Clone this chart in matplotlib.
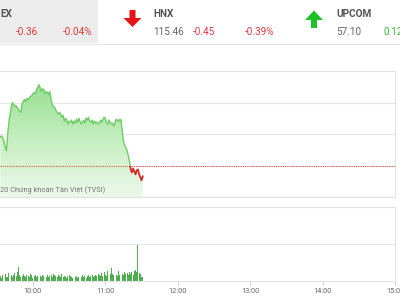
import matplotlib.pyplot as plt
import numpy as np
from matplotlib.colors import LinearSegmentedColormap
from matplotlib.patches import Rectangle, Polygon

plt.rcParams['font.family'] = ['Roboto', 'DejaVu Sans']

# intraday index, one point per minute from 9:33
start_hour = 9 + 33 / 60
price = [901.81, 901.88, 901.75, 901.56, 901.13, 900.94, 901.94, 902.69, 903.25, 903.69,
         904.00, 903.88, 903.75, 903.81, 903.69, 903.56, 903.44, 903.38, 903.88, 904.06,
         904.19, 904.06, 904.25, 904.19, 904.31, 904.38, 904.44, 904.56, 904.63, 904.56,
         904.81, 904.94, 905.13, 904.94, 904.69, 904.88, 904.81, 904.56, 904.69, 904.63,
         904.50, 904.69, 904.19, 903.88, 903.75, 903.69, 903.50, 903.38, 903.25, 903.38,
         903.25, 903.06, 903.19, 902.81, 903.00, 902.88, 902.63, 902.81, 902.75, 902.88,
         902.63, 902.81, 902.69, 902.94, 902.75, 903.00, 902.81, 902.63, 902.75, 902.88,
         902.69, 903.00, 902.88, 903.06, 902.81, 902.75, 902.88, 902.63, 902.81, 902.69,
         902.75, 902.63, 902.69, 902.88, 902.75, 902.94, 903.06, 903.00, 902.69, 902.63,
         902.88, 902.75, 902.63, 902.69, 902.50, 902.69, 902.94, 902.88, 902.81, 902.94,
         902.88, 902.13, 901.56, 901.25, 901.13, 900.94, 900.63, 900.25, 899.75, 899.56,
         899.81, 899.63, 899.44, 899.69, 899.75, 899.44, 899.25, 899.06, 899.31]
# volume, thousand shares
volume = [270, 160, 320, 210, 380, 240, 190, 430, 270, 350, 220, 300, 410, 260, 480, 750, 330, 210, 290, 380,
          250, 190, 340, 270, 220, 400, 310, 180, 260, 350, 230, 290, 420, 270, 200, 330, 260, 380, 240, 310,
          190, 280, 350, 220, 400, 300, 260, 190, 330, 270, 240, 360, 210, 290, 230, 180, 270, 320, 250, 190,
          160, 240, 200, 280, 170, 230, 260, 190, 300, 220, 250, 180, 270, 330, 210, 290, 350, 240, 280, 300,
          260, 380, 310, 270, 430, 250, 460, 320, 280, 520, 360, 400, 700, 380, 300, 450, 340, 290, 560, 330,
          410, 370, 300, 480, 360, 420, 340, 500, 380, 460, 330, 520, 600, 480, 1950, 420, 380, 240, 200]
reference = 899.94

tick_hours = [10, 11, 12, 13, 14, 15]
tick_labels = ['10:00', '11:00', '12:00', '13:00', '14:00', '15:00']

index_names = ['EX', 'HNX', 'UPCOM']
index_values = ['', '115.46', '57.10']
index_changes = ['-0.36', '-0.45', '0.12']
index_pcts = ['-0.04%', '-0.39%', '']

times = start_hour + np.arange(len(price)) / 60
RED = '#e0393e'
GREEN = '#3cba3c'

fig = plt.figure(figsize=(4, 3), dpi=100)

# header strip
hax = fig.add_axes([0, 0, 1, 1])
hax.set_xlim(0, 400)
hax.set_ylim(300, 0)
hax.axis('off')
hax.add_patch(Rectangle((0, 0), 98, 43, color='#ececec', lw=0))
hax.plot([0, 400], [44, 44], color='#e4e4e4', lw=0.8)
# arrows
hax.add_patch(Polygon([(129.5, 10), (135.5, 10), (135.5, 18), (141.5, 18), (132.5, 27), (123.5, 18), (129.5, 18)],
                      color='#e8121a', lw=0))
hax.add_patch(Polygon([(311, 28), (317, 28), (317, 20), (323, 20), (314, 10.5), (305, 20), (311, 20)],
                      color='#1fbf2a', lw=0))
name_x = [0, 153, 336]
for i, nm in enumerate(index_names):
    hax.text(name_x[i], 14, nm, fontsize=7.2, fontweight='bold', color='#555555', va='center')
    if index_values[i]:
        hax.text(name_x[i], 32, index_values[i], fontsize=7.2, color='#666666', va='center')
chg_x = [38, 215, 383]
pct_x = [92, 274, 440]
for i in range(3):
    col = RED if index_changes[i].startswith('-') else GREEN
    ha = 'right' if i < 2 else 'left'
    hax.text(chg_x[i], 32, index_changes[i], fontsize=7.2, color=col, va='center', ha=ha)
    if index_pcts[i]:
        hax.text(pct_x[i], 32, index_pcts[i], fontsize=7.2, color=col, va='center', ha='right')

x0, x1 = start_hour - 0.005, 15.0

# price panel
ax = fig.add_axes([0, 1 - 197 / 300, 395 / 400, 126 / 300])
grad = np.linspace(0, 1, 256).reshape(-1, 1)
cmap = LinearSegmentedColormap.from_list('g', ['#edf9eb', '#c2edbc', '#8edc88'])
img = ax.imshow(grad, extent=[times[0], times[-1], 898, 906], origin='lower', cmap=cmap,
                aspect='auto', zorder=1)
area = ax.fill_between(times, price, 898, color='none', lw=0)
img.set_clip_path(area.get_paths()[0], transform=ax.transData)
up = ax.plot(times, price, color='#6fcc66', lw=1.0, zorder=3)[0]
dn = ax.plot(times, price, color='#d42a2a', lw=1.3, zorder=3)[0]
up.set_clip_path(Rectangle((x0, reference), 10, 20, transform=ax.transData))
dn.set_clip_path(Rectangle((x0, reference - 20), 10, 20, transform=ax.transData))
ax.axhline(reference, color='#d9534f', lw=0.8, ls=(0, (1, 1)), zorder=2)
ax.set_xlim(x0, x1)
ax.set_ylim(898, 906)
ax.set_yticks([900, 902, 904])
ax.set_xticks([])
ax.grid(axis='y', color='#e6e6e6', lw=0.8)
ax.set_axisbelow(True)
ax.tick_params(left=False, labelleft=False)
ax.spines['left'].set_visible(False)
for s in ['top', 'right', 'bottom']:
    ax.spines[s].set_color('#e2e2e2')
    ax.spines[s].set_linewidth(0.8)
fig.text(0, 1 - 190 / 300, '20 Chứng khoán Tân Việt (TVSI)', fontsize=5.3, color='#777777', va='center')

# volume panel
vax = fig.add_axes([0, 1 - 281 / 300, 395 / 400, 74 / 300])
vax.bar(times, volume, width=0.75 / 60, color='#4fae4f', lw=0, zorder=2)
vax.set_xlim(x0, x1)
vax.set_ylim(0, 4000)
vax.set_yticks([2000])
vax.grid(axis='y', color='#e6e6e6', lw=0.8)
vax.set_axisbelow(True)
vax.tick_params(left=False, labelleft=False)
vax.set_xticks(tick_hours, tick_labels)
vax.tick_params(axis='x', length=3, color='#d0d0d0', labelsize=5.3, labelcolor='#666666', pad=2)
vax.spines['left'].set_visible(False)
for s in ['top', 'right', 'bottom']:
    vax.spines[s].set_color('#e2e2e2')
    vax.spines[s].set_linewidth(0.8)

fig.savefig('out.png', dpi=100)
